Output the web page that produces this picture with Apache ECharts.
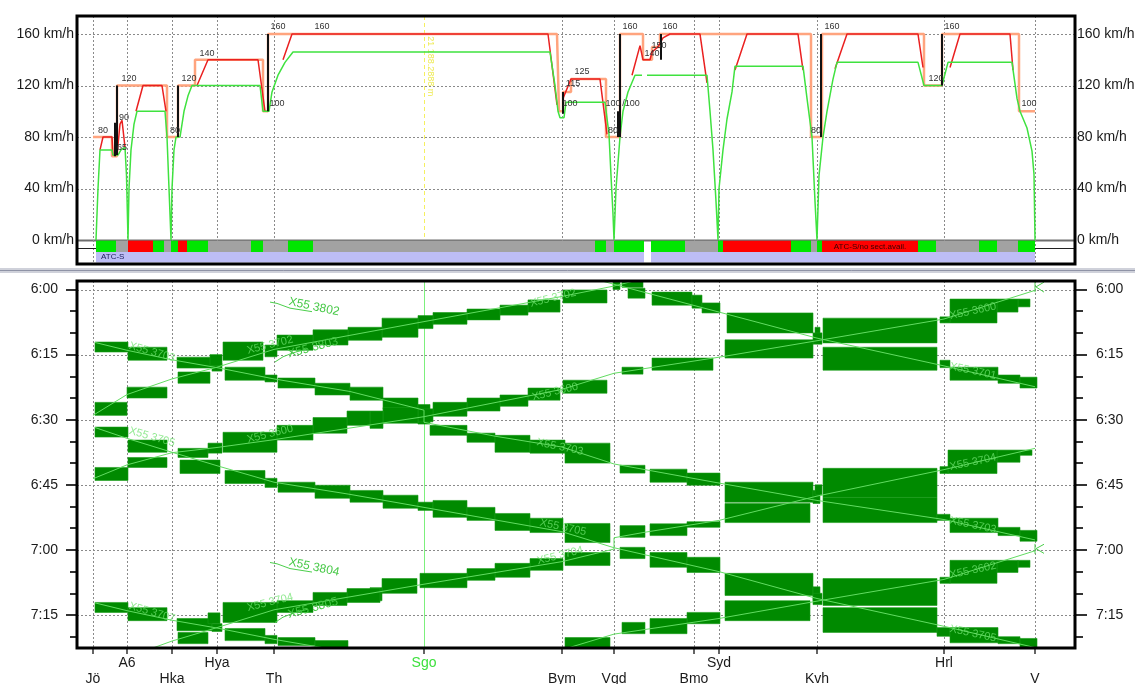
<!DOCTYPE html>
<html>
<head>
<meta charset="utf-8">
<script src="https://cdn.jsdelivr.net/npm/echarts@6/dist/echarts.min.js"></script>
<style>
html,body{margin:0;padding:0;background:#fff;}
#chart{width:1135px;height:684px;}
</style>
</head>
<body>
<div id="chart"></div>
<script>
// ---------- line geometry ----------
const stationNames = ['Jö','A6','Hka','Hya','Th','Sgo','Bym','Vgd','Bmo','Syd','Kvh','Hrl','V'];
const stationKm    = [0, 3.4, 7.9, 12.4, 18.1, 33.1, 46.9, 52.1, 60.1, 62.6, 72.4, 85.1, 94.2];
const stationRow   = [2, 1, 2, 1, 2, 1, 2, 2, 2, 1, 2, 1, 2];
const markerStation = 'Sgo';
const markerText = '21 188.2888 m';

// ---------- speed profile (km, km/h) ----------
const speedTicks = [0, 40, 80, 120, 160];
const speedLimit = [[0.0,80],[1.9,80],[1.9,65],[2.4,65],[2.4,120],[7.4,120],[7.4,80],[8.5,80],[8.5,120],[10.2,120],[10.2,140],[17.0,140],[17.0,100],[17.5,100],[17.5,160],[46.4,160],[46.6,100],[47.0,100],[47.0,115],[47.8,115],[47.8,125],[51.3,125],[51.3,80],[52.7,80],[52.7,160],[55.0,160],[55.0,140],[55.9,140],[55.9,150],[56.7,150],[56.7,160],[71.8,160],[71.8,80],[72.9,80],[72.9,160],[83.1,160],[83.1,120],[84.9,120],[84.9,160],[92.6,160],[92.6,100],[94.2,100]];
const targetSpeed = [
  [[0.7,70],[1.0,80],[1.9,80],[2.0,66],[2.4,66],[2.7,90],[2.9,93],[3.2,72]],
  [[4.3,100],[5.0,120],[6.9,120],[7.3,100]],
  [[10.4,120],[11.5,140],[16.5,140],[17.2,100]],
  [[19.0,140],[19.9,160],[45.5,160],[46.4,105]],
  [[47.0,110],[47.8,125],[50.7,125],[51.4,82]],
  [[53.9,128],[54.7,151],[55.0,140],[55.7,140],[55.9,146],[56.5,150],[57.0,157],[57.7,160],[60.7,160],[61.4,122]],
  [[64.2,132],[65.4,160],[70.5,160],[71.0,132]],
  [[74.2,133],[75.4,160],[82.5,160],[83.0,134]],
  [[85.7,134],[86.7,160],[91.7,160],[92.0,132]]
];
const actualSpeed = [
  [[0.3,0],[0.5,40],[0.7,70],[1.9,70],[2.0,66],[2.5,66],[2.8,70],[3.2,72],[3.35,50],[3.5,0],[3.6,40],[3.8,70],[4.1,90],[4.4,100],[7.2,100],[7.4,80],[7.6,40],[7.8,0],[7.9,40],[8.1,70],[8.3,80],[8.7,80],[9.1,100],[9.5,112],[9.9,120],[16.7,120],[17.0,100],[17.6,100],[17.9,115],[18.5,128],[19.2,138],[20.0,146],[45.7,146],[46.2,120],[46.5,100],[46.7,95],[47.1,95],[47.3,107],[51.2,107],[51.6,82],[51.8,50],[52.0,20],[52.1,0],[52.3,40],[52.7,80],[53.0,100],[53.5,115],[54.2,128],[54.9,128]],
  [[55.4,128],[61.4,128],[61.7,100],[62.0,70],[62.3,30],[62.5,0],[62.6,40],[63.0,70],[63.4,94],[63.9,115],[64.2,135],[71.0,135],[71.4,110],[71.9,80],[72.2,30],[72.4,0],[72.6,50],[73.0,80],[73.4,100],[74.0,125],[74.4,138],[82.5,138],[83.1,120],[84.9,120],[85.5,138],[91.9,138],[92.4,110],[92.7,100],[93.4,87],[93.9,69],[94.1,51],[94.2,0]]
];
// vertical marks: km, from, to (km/h)
const releaseMarks = [[2.2,65,91],[2.4,66,120],[8.5,80,120],[17.5,100,160],[47.0,98,115],[52.5,80,100],[52.7,80,160],[56.8,140,160],[72.8,80,160],[84.9,120,160]];
const speedLabels = [[1.0,85.4,'80'],[3.1,95.5,'90'],[2.9,72.2,'65'],[3.6,125.8,'120'],[8.2,85.4,'80'],[9.6,125.8,'120'],[11.4,145.2,'140'],[18.5,166.2,'160'],[18.4,106.4,'100'],[22.9,166.2,'160'],[48.9,130.5,'125'],[48.0,121.2,'115'],[47.7,106.4,'100'],[52.0,106.4,'100'],[53.8,106.4,'/100'],[52.0,85.4,'80'],[53.7,166.2,'160'],[55.9,144.5,'140'],[56.6,150.7,'150'],[57.7,166.2,'160'],[72.3,85.4,'80'],[73.9,166.2,'160'],[84.3,125.8,'120'],[85.9,166.2,'160'],[93.6,106.4,'100']];

// ATC supervision strip
const atcSegments = [[0.3,2.3,'G'],[2.3,3.5,'S'],[3.5,6.0,'R'],[6.0,7.1,'G'],[7.1,7.8,'S'],[7.8,8.5,'G'],[8.5,9.4,'R'],[9.4,11.5,'G'],[11.5,15.8,'S'],[15.8,17.0,'G'],[17.0,19.5,'S'],[19.5,22.0,'G'],[22.0,50.2,'S'],[50.2,51.3,'G'],[51.3,52.1,'S'],[52.1,55.1,'G'],[55.8,59.2,'G'],[59.2,62.5,'S'],[62.5,63.0,'G'],[63.0,69.8,'R'],[69.8,71.8,'G'],[71.8,72.4,'S'],[72.4,72.9,'G'],[72.9,82.5,'R'],[82.5,84.3,'G'],[84.3,88.6,'S'],[88.6,90.4,'G'],[90.4,92.5,'S'],[92.5,94.2,'G']];
const atcNotes = [[72.9,82.5,'ATC-S/no sect.avail.']];
const systemSegments = [[0.3,55.1,'ATC-S'],[55.8,94.2,'']];

// ---------- timetable (km, minutes after midnight) ----------
const timeTicks = [360, 375, 390, 405, 420, 435];
const minorTimeTicks = [365, 370, 380, 385, 395, 400, 410, 415, 425, 430, 440];

const blocks3701 = [[52.0,52.7,358.0,360.0],[53.5,55.2,359.7,362.0],[55.9,59.9,360.6,363.6],[59.9,60.9,361.3,364.3],[60.9,62.7,363.1,365.4],[63.4,72.0,365.4,370.0],[72.2,72.7,368.7,371.2],[73.0,84.4,373.3,378.6],[84.7,85.7,376.3,378.0],[85.7,90.5,377.9,380.9],[90.5,92.7,379.7,381.6],[92.7,94.4,380.2,382.7]];
const path3701 = [[46.9,355.5],[52.1,358.8],[62.6,365.2],[72.4,371.2],[85.1,377.6],[94.2,382.4]];

const blocks3703 = [[0.2,3.5,372.1,374.4],[3.5,7.4,373.3,376.3],[8.4,11.9,375.6,378.1],[11.9,12.9,377.0,378.8],[13.2,17.2,377.9,380.9],[17.2,18.4,379.7,381.3],[18.5,22.2,380.4,382.7],[22.2,25.7,381.6,384.3],[25.7,29.0,382.5,385.5],[29.0,32.5,385.0,387.6],[32.5,33.7,386.5,391.0],[33.7,37.4,391.3,393.6],[37.4,40.2,393.1,395.2],[40.2,43.7,393.6,397.5],[43.7,47.2,394.7,397.7],[47.2,51.7,395.4,400.0],[52.7,55.2,400.5,402.3],[55.7,59.4,401.4,404.4],[59.4,62.7,402.3,405.1],[63.2,72.0,404.4,409.0],[72.0,72.7,406.3,409.3],[73.0,84.4,407.9,413.7],[84.4,85.7,411.8,413.2],[85.7,90.5,412.7,416.0],[90.5,92.7,414.8,416.7],[92.7,94.4,415.5,418.0]];
const path3703 = [[0.2,372.2],[3.4,374.0],[7.9,376.2],[12.4,378.0],[18.1,380.6],[25.7,383.5],[33.1,387.8],[33.1,390.6],[40.2,393.8],[46.9,396.3],[52.1,400.2],[62.6,404.6],[72.4,408.6],[85.1,413.0],[94.2,417.7]];

const blocks3705 = [[0.2,3.5,391.7,394.0],[3.5,7.4,394.7,397.5],[8.7,12.7,399.3,402.4],[13.2,17.2,401.7,404.7],[17.2,18.4,403.5,405.6],[18.5,22.2,404.4,406.7],[22.2,25.7,405.1,408.1],[25.7,29.0,406.3,409.0],[29.0,32.5,407.4,410.4],[32.5,34.0,409.0,410.9],[34.0,37.4,408.6,412.5],[37.4,40.2,410.2,413.2],[40.2,43.7,411.6,415.5],[43.7,47.0,412.7,416.0],[47.2,51.7,413.9,418.3],[52.7,55.2,419.4,422.0],[55.7,59.4,420.6,424.0],[59.4,62.7,421.7,425.2],[63.2,72.0,425.4,430.5],[72.0,72.7,428.5,431.7],[73.0,84.4,433.3,439.0],[84.4,85.7,437.9,439.9],[85.7,90.5,437.9,441.4],[90.5,92.7,440.0,441.6],[92.7,94.4,440.4,442.5]];
const path3705 = [[0.2,391.8],[3.4,394.3],[7.9,397.5],[12.4,400.6],[18.1,404.4],[25.7,407.2],[33.1,410.2],[46.9,415.8],[52.1,419.5],[62.6,425.0],[72.4,431.2],[85.1,437.6],[94.2,442.5]];

const blocks3707 = [[0.2,3.5,432.1,434.4],[3.5,7.4,433.3,436.3],[8.4,11.9,435.8,438.6],[11.9,12.9,437.0,438.8],[13.2,17.2,438.1,440.9],[17.2,18.4,439.7,441.6],[18.5,22.2,440.2,442.0],[22.2,25.5,440.9,442.8]];
const path3707 = [[0.2,432.2],[3.4,434.0],[7.9,436.2],[12.4,438.0],[18.1,440.6],[25.7,443.6]];

const blocks3600 = [[92.5,93.7,362.2,364.0],[90.4,92.5,362.2,365.2],[85.7,90.4,362.2,367.7],[84.7,85.7,366.3,367.7],[73.0,84.4,366.6,372.3],[72.0,72.9,370.0,372.6],[63.2,72.0,371.6,375.8],[55.9,62.0,375.8,378.6],[52.9,55.0,377.9,379.5],[47.0,51.4,380.9,383.9],[43.5,46.7,382.7,385.5],[40.7,43.5,384.3,386.9],[37.4,40.7,385.0,388.0],[34.0,37.4,386.0,389.2],[32.5,34.0,387.5,390.5],[29.0,32.5,387.2,390.8],[27.7,29.0,388.0,392.0],[25.4,27.7,388.0,391.3],[22.0,25.4,389.5,393.1],[18.4,22.0,391.3,394.7],[13.0,18.4,392.9,397.5],[11.5,12.9,395.4,397.7],[8.5,11.5,396.6,398.7],[3.5,7.4,398.7,401.0],[0.2,3.5,401.0,404.0]];
const path3600 = [[94.2,360.2],[85.1,366.8],[72.4,371.8],[62.6,375.6],[52.1,379.3],[46.9,383.0],[33.1,389.3],[18.1,394.6],[12.4,396.4],[7.9,397.6],[3.4,400.4],[0.0,403.6]];

const blocks3602 = [[92.5,93.7,422.4,424.0],[90.4,92.5,422.4,425.2],[85.7,90.4,422.4,427.7],[84.7,85.7,426.3,427.7],[73.0,84.4,426.6,432.8],[72.0,72.9,430.0,432.6],[63.2,71.7,431.7,436.3],[59.4,62.7,434.4,437.0],[55.7,59.4,435.8,439.3],[52.9,55.2,436.7,439.3],[47.2,51.7,440.2,442.7]];
const path3602 = [[94.2,420.2],[85.1,426.8],[72.4,431.8],[62.6,435.8],[52.1,439.4],[46.9,443.0]];

const blocks3702 = [[52.9,55.0,358.0,359.5],[47.0,51.4,360.1,363.1],[43.5,46.7,362.4,365.2],[40.7,43.5,363.6,365.9],[37.4,40.7,364.5,367.0],[34.0,37.4,365.3,368.0],[32.5,34.0,366.0,369.0],[28.9,32.5,366.6,371.0],[25.5,28.9,368.7,371.7],[22.0,25.5,369.3,372.8],[18.4,22.0,370.5,374.0],[17.2,18.4,372.8,375.5],[13.0,17.0,372.1,376.3],[11.7,12.9,375.0,377.5],[8.5,11.7,379.0,381.6],[3.4,7.4,382.5,385.0],[0.2,3.4,386.0,389.0]];
const path3702 = [[55.0,357.5],[52.1,359.2],[46.9,361.6],[33.1,367.4],[18.1,373.8],[12.4,377.9],[7.9,380.6],[3.4,384.2],[0.0,389.0]];

const blocks3704 = [[92.7,93.9,397.0,398.2],[90.4,92.7,397.0,399.8],[85.5,90.4,397.0,402.4],[84.7,85.5,400.8,402.4],[73.0,84.4,401.2,407.9],[72.2,72.9,405.0,407.3],[63.2,71.7,409.3,413.7],[59.4,62.7,413.5,414.8],[55.7,59.4,414.0,416.7],[52.7,55.2,414.4,417.1],[47.2,51.7,420.6,423.6],[43.7,47.0,422.0,424.7],[40.2,43.7,423.1,426.3],[37.4,40.2,424.3,427.0],[32.7,37.4,425.4,428.7],[28.9,32.4,426.6,430.0],[27.7,28.9,428.7,431.7],[25.4,28.7,428.9,432.1],[22.0,25.4,429.8,432.8],[18.4,22.0,431.7,434.4],[13.0,18.4,432.1,436.7],[11.5,12.7,434.5,437.0],[8.5,11.5,439.0,441.6]];
const path3704 = [[94.2,396.6],[85.1,401.5],[72.4,407.6],[62.6,413.2],[55.0,416.0],[52.1,417.2],[52.1,419.8],[46.9,422.7],[33.1,427.9],[18.1,433.8],[12.4,437.9],[7.9,441.0],[5.5,443.0]];

// turnaround marks at the terminus (km, time points)
const turnMarks = [
  [[94.2,358.2],[94.2,360.6]], [[94.3,359.4],[95.1,358.3]], [[94.3,359.4],[95.1,360.6]],
  [[94.2,418.6],[94.2,420.9]], [[94.3,419.7],[95.1,418.7]], [[94.3,419.7],[95.1,420.8]]
];

// train number tags: km, time, text, rotation (deg)
const branchLeaders = [
  [[17.7,362.9],[18.4,363.2],[19.7,364.3],[21.9,365.1]],
  [[18.2,376.7],[19.0,375.5],[20.0,374.6],[21.4,373.7]],
  [[17.7,422.9],[18.4,423.2],[19.7,424.3],[21.9,425.1]],
  [[18.2,436.7],[19.0,435.5],[20.0,434.6],[21.4,433.7]]
];
const branchTags = [[22.1,364.0,'X55 3802',-12],[22.0,373.4,'X55 3803',15],[22.1,424.0,'X55 3804',-12],[22.0,433.4,'X55 3805',15]];
const trainTags = [
  [88.0,365.0,'X55 3600',12],[88.0,378.8,'X55 3701',-12],[88.0,399.8,'X55 3704',12],[88.0,414.3,'X55 3703',-12],[88.0,424.7,'X55 3602',12],[88.0,439.3,'X55 3705',-12],
  [5.9,374.4,'X55 3703',-16],[5.9,394.0,'X55 3705',-16],[5.9,434.4,'X55 3707',-16],
  [17.7,372.8,'X55 3702',14],[17.7,393.3,'X55 3600',14],[17.7,432.1,'X55 3704',14],
  [46.2,383.6,'X55 3600',14],[46.7,396.3,'X55 3703',-12],[47.0,414.8,'X55 3705',-12],[46.7,421.3,'X55 3704',14],[46.0,362.0,'X55 3702',14]
];

// ---------- layout ----------
const L = 77, R = 1075;
const T1 = 16, B1 = 264;
const T2 = 281, B2 = 648;
const FONT = '"Liberation Sans", Arial, Helvetica, sans-serif';

const allBlocks = [].concat(blocks3701, blocks3703, blocks3705, blocks3707, blocks3600, blocks3602, blocks3702, blocks3704);
const allPaths = [path3701, path3703, path3705, path3707, path3600, path3602, path3702, path3704];

function hm(v) {
  const h = Math.floor(v / 60), m = Math.round(v - h * 60);
  return h + ':' + String(m).padStart(2, '0');
}
function crisp(v) { return Math.round(v) + 0.5; }

// horizontal guide lines across a grid
function hLines(xi, yi, values, styleFn, z) {
  return {
    type: 'custom', xAxisIndex: xi, yAxisIndex: yi, z: z, silent: true,
    data: values.map(v => [0, v]),
    renderItem(params, api) {
      const cs = params.coordSys;
      const v = values[params.dataIndex];
      const y = crisp(api.coord([0, v])[1]);
      return { type: 'line', shape: { x1: cs.x, y1: y, x2: cs.x + cs.width, y2: y }, style: styleFn(v) };
    }
  };
}
// vertical guide lines at stations
function vLines(xi, yi, kms, styleFn, z, toValue) {
  return {
    type: 'custom', xAxisIndex: xi, yAxisIndex: yi, z: z, silent: true,
    data: kms.map(k => [k, 0]),
    renderItem(params, api) {
      const cs = params.coordSys;
      const k = kms[params.dataIndex];
      const x = crisp(api.coord([k, 0])[0]);
      const y2 = toValue === undefined ? cs.y + cs.height : api.coord([k, toValue])[1];
      return { type: 'line', shape: { x1: x, y1: cs.y, x2: x, y2: y2 }, style: styleFn(k) };
    }
  };
}

const dotted = { stroke: '#8a8a8a', lineWidth: 1, lineDash: [2, 2] };
const gridStations = stationKm.filter((k, i) => stationNames[i] !== markerStation);
const markerKm = stationKm[stationNames.indexOf(markerStation)];

const series = [];

// ---- speed panel ----
series.push(hLines(0, 0, speedTicks, v => v === 0 ? { stroke: '#6e6e6e', lineWidth: 2 } : dotted, 1));
series.push(vLines(0, 0, gridStations, () => dotted, 1));
series.push(vLines(0, 0, [markerKm], () => ({ stroke: '#f5f060', lineWidth: 1, lineDash: [4, 3] }), 1, 0));
series.push({
  type: 'custom', xAxisIndex: 0, yAxisIndex: 0, z: 2, silent: true,
  data: [[markerKm, 135]],
  renderItem(params, api) {
    const p = api.coord([markerKm + 0.6, 135]);
    return { type: 'text', x: p[0], y: p[1], rotation: -Math.PI / 2,
      style: { text: markerText, fill: '#eeea50', font: '9px ' + FONT, align: 'center', verticalAlign: 'middle' } };
  }
});
series.push({ type: 'line', xAxisIndex: 0, yAxisIndex: 0, z: 3, silent: true, symbol: 'none',
  data: speedLimit, lineStyle: { color: '#ffa47e', width: 2.5 } });
targetSpeed.forEach(seg => series.push({ type: 'line', xAxisIndex: 0, yAxisIndex: 0, z: 4, silent: true, symbol: 'none',
  data: seg, lineStyle: { color: '#ea2020', width: 1.5 } }));
actualSpeed.forEach(seg => series.push({ type: 'line', xAxisIndex: 0, yAxisIndex: 0, z: 5, silent: true, symbol: 'none',
  data: seg, lineStyle: { color: '#3fe23f', width: 1.5 } }));
series.push({
  type: 'custom', xAxisIndex: 0, yAxisIndex: 0, z: 6, silent: true,
  data: releaseMarks.map(d => [d[0], d[1]]),
  renderItem(params, api) {
    const d = releaseMarks[params.dataIndex];
    const p0 = api.coord([d[0], d[1]]), p1 = api.coord([d[0], d[2]]);
    const x = Math.round(p0[0]);
    return { type: 'line', shape: { x1: x, y1: p0[1], x2: x, y2: p1[1] }, style: { stroke: '#111', lineWidth: 2 } };
  }
});
series.push({
  type: 'custom', xAxisIndex: 0, yAxisIndex: 0, z: 7, silent: true,
  data: speedLabels.map(d => [d[0], d[1]]),
  renderItem(params, api) {
    const d = speedLabels[params.dataIndex];
    const p = api.coord([d[0], d[1]]);
    return { type: 'text', x: p[0], y: p[1],
      style: { text: d[2], fill: '#333', font: '9px ' + FONT, align: 'center', verticalAlign: 'middle' } };
  }
});
// ATC strip under the 0 km/h line
const atcColors = { G: '#00e600', S: '#a2a2a2', R: '#ff0000' };
series.push({
  type: 'custom', xAxisIndex: 0, yAxisIndex: 0, z: 8, silent: true,
  data: atcSegments.map(d => [d[0], 0]),
  renderItem(params, api) {
    const d = atcSegments[params.dataIndex];
    const a = api.coord([d[0], -0.5]), b = api.coord([d[1], -9.3]);
    return { type: 'rect', shape: { x: a[0], y: a[1], width: b[0] - a[0], height: b[1] - a[1] }, style: { fill: atcColors[d[2]] } };
  }
});
series.push({
  type: 'custom', xAxisIndex: 0, yAxisIndex: 0, z: 8, silent: true,
  data: systemSegments.map(d => [d[0], 0]),
  renderItem(params, api) {
    const d = systemSegments[params.dataIndex];
    const a = api.coord([d[0], -9.3]), b = api.coord([d[1], -17.4]);
    const children = [{ type: 'rect', shape: { x: a[0], y: a[1], width: b[0] - a[0], height: b[1] - a[1] }, style: { fill: '#bdbdf6' } }];
    if (d[2]) children.push({ type: 'text', x: a[0] + 5, y: (a[1] + b[1]) / 2,
      style: { text: d[2], fill: '#1c1c5a', font: '8px ' + FONT, align: 'left', verticalAlign: 'middle' } });
    return { type: 'group', children };
  }
});
series.push({
  type: 'custom', xAxisIndex: 0, yAxisIndex: 0, z: 9, silent: true,
  data: atcNotes.map(d => [d[0], 0]),
  renderItem(params, api) {
    const d = atcNotes[params.dataIndex];
    const p = api.coord([(d[0] + d[1]) / 2, -4.9]);
    return { type: 'text', x: p[0], y: p[1],
      style: { text: d[2], fill: '#3a0000', font: '8px ' + FONT, align: 'center', verticalAlign: 'middle' } };
  }
});
// strip frame ticks left and right of the strip
series.push({
  type: 'custom', xAxisIndex: 0, yAxisIndex: 0, z: 8, silent: true,
  data: [[stationKm[0], 0]],
  renderItem(params, api) {
    const cs = params.coordSys;
    const s = api.coord([atcSegments[0][0], -6.5]);
    const e = api.coord([atcSegments[atcSegments.length - 1][1], -6.5]);
    const y = crisp(s[1]);
    return { type: 'group', children: [
      { type: 'line', shape: { x1: cs.x, y1: y, x2: s[0], y2: y }, style: { stroke: '#222', lineWidth: 1 } },
      { type: 'line', shape: { x1: e[0], y1: y, x2: cs.x + cs.width, y2: y }, style: { stroke: '#222', lineWidth: 1 } }
    ] };
  }
});

// ---- timetable panel ----
series.push(hLines(1, 2, timeTicks, () => dotted, 1));
series.push(vLines(1, 2, gridStations, () => dotted, 1));
series.push(vLines(1, 2, [markerKm], () => ({ stroke: '#7cf07c', lineWidth: 1 }), 1));
series.push({
  type: 'custom', xAxisIndex: 1, yAxisIndex: 2, z: 3, silent: true,
  data: allBlocks.map(d => [d[0], d[2]]),
  renderItem(params, api) {
    const d = allBlocks[params.dataIndex];
    const cs = params.coordSys;
    const a = api.coord([d[0], d[2]]), b = api.coord([d[1], d[3]]);
    const r = echarts.graphic.clipRectByRect(
      { x: Math.min(a[0], b[0]), y: Math.min(a[1], b[1]), width: Math.abs(b[0] - a[0]), height: Math.abs(b[1] - a[1]) },
      { x: cs.x, y: cs.y, width: cs.width, height: cs.height });
    if (!r) return null;
    return { type: 'rect', shape: r, style: { fill: '#008a00', stroke: '#179c17', lineWidth: 0.6 } };
  }
});
allPaths.forEach(p => series.push({ type: 'line', xAxisIndex: 1, yAxisIndex: 2, z: 4, silent: true, symbol: 'none',
  data: p, lineStyle: { color: '#62dc62', width: 1 } }));
series.push({
  type: 'custom', xAxisIndex: 1, yAxisIndex: 2, z: 5, silent: true,
  data: turnMarks.map(p => p[0]),
  renderItem(params, api) {
    const pts = turnMarks[params.dataIndex].map(q => api.coord(q));
    return { type: 'polyline', shape: { points: pts }, style: { stroke: '#4ccf4c', lineWidth: 1, fill: null } };
  }
});
series.push({
  type: 'custom', xAxisIndex: 1, yAxisIndex: 2, z: 5, silent: true,
  data: branchLeaders.map(p => p[0]),
  renderItem(params, api) {
    const pts = branchLeaders[params.dataIndex].map(q => api.coord(q));
    return { type: 'polyline', shape: { points: pts }, style: { stroke: '#4ccf4c', lineWidth: 1, fill: null } };
  }
});
series.push({
  type: 'custom', xAxisIndex: 1, yAxisIndex: 2, z: 5, silent: true,
  data: branchTags.map(d => [d[0], d[1]]),
  renderItem(params, api) {
    const d = branchTags[params.dataIndex];
    const p = api.coord([d[0], d[1]]);
    return { type: 'text', x: p[0], y: p[1], rotation: d[3] * Math.PI / 180,
      style: { text: d[2], fill: '#45c845', font: '12px ' + FONT, align: 'center', verticalAlign: 'middle' } };
  }
});
series.push({
  type: 'custom', xAxisIndex: 1, yAxisIndex: 2, z: 5, silent: true,
  data: trainTags.map(d => [d[0], d[1]]),
  renderItem(params, api) {
    const d = trainTags[params.dataIndex];
    const p = api.coord([d[0], d[1]]);
    return { type: 'text', x: p[0], y: p[1], rotation: d[3] * Math.PI / 180,
      style: { text: d[2], fill: 'rgba(110,225,110,0.75)', font: '11px ' + FONT, align: 'center', verticalAlign: 'middle' } };
  }
});

const axisText = { color: '#1a1a1a', fontSize: 14, fontFamily: FONT };
const hidden = { show: false };
const noLine = { show: false, onZero: false };

const option = {
  animation: false,
  backgroundColor: '#ffffff',
  grid: [
    { left: L, top: T1, width: R - L, height: B1 - T1, outerBoundsMode: 'none', containLabel: false },
    { left: L, top: T2, width: R - L, height: B2 - T2, outerBoundsMode: 'none', containLabel: false }
  ],
  xAxis: [
    { gridIndex: 0, type: 'value', min: -1.6, max: 98.2, show: false, axisLine: noLine },
    { gridIndex: 1, type: 'value', min: -1.6, max: 98.2, position: 'bottom',
      axisLine: noLine, splitLine: hidden,
      axisTick: { show: true, customValues: stationKm, length: 6, lineStyle: { color: '#333', width: 1.5 } },
      axisLabel: { show: true, customValues: stationKm, margin: 7, lineHeight: 16, ...axisText,
        formatter: v => {
          const i = stationKm.indexOf(v);
          if (i < 0) return '';
          const style = stationNames[i] === markerStation ? 'g' : 'n';
          const txt = '{' + style + '|' + stationNames[i] + '}';
          return stationRow[i] === 2 ? '\n' + txt : txt;
        },
        rich: { n: { color: '#1a1a1a', fontSize: 14, lineHeight: 16, fontFamily: FONT },
                g: { color: '#3de03d', fontSize: 14, lineHeight: 16, fontFamily: FONT } } } }
  ],
  yAxis: [
    { gridIndex: 0, type: 'value', min: -18.64, max: 174, position: 'left',
      axisLine: noLine, axisTick: hidden, splitLine: hidden,
      axisLabel: { customValues: speedTicks, formatter: '{value} km/h', margin: 3, ...axisText } },
    { gridIndex: 0, type: 'value', min: -18.64, max: 174, position: 'right',
      axisLine: noLine, axisTick: hidden, splitLine: hidden,
      axisLabel: { customValues: speedTicks, formatter: '{value} km/h', margin: 2, ...axisText } },
    { gridIndex: 1, type: 'value', min: 358.04, max: 442.6, inverse: true, position: 'left',
      axisLine: noLine, splitLine: hidden,
      axisTick: { show: true, customValues: timeTicks, length: 11, lineStyle: { color: '#333', width: 2 } },
      axisLabel: { customValues: timeTicks, formatter: hm, margin: 19, ...axisText } },
    { gridIndex: 1, type: 'value', min: 358.04, max: 442.6, inverse: true, position: 'left',
      axisLine: noLine, splitLine: hidden, axisLabel: hidden,
      axisTick: { show: true, customValues: minorTimeTicks, length: 7, lineStyle: { color: '#333', width: 2 } } },
    { gridIndex: 1, type: 'value', min: 358.04, max: 442.6, inverse: true, position: 'right',
      axisLine: noLine, splitLine: hidden,
      axisTick: { show: true, customValues: timeTicks, length: 12, lineStyle: { color: '#333', width: 2 } },
      axisLabel: { customValues: timeTicks, formatter: hm, margin: 21, ...axisText } },
    { gridIndex: 1, type: 'value', min: 358.04, max: 442.6, inverse: true, position: 'right',
      axisLine: noLine, splitLine: hidden, axisLabel: hidden,
      axisTick: { show: true, customValues: minorTimeTicks, length: 8, lineStyle: { color: '#333', width: 2 } } }
  ],
  graphic: [
    { type: 'rect', z: 100, silent: true, shape: { x: L, y: T1, width: R - L, height: B1 - T1 }, style: { fill: null, stroke: '#000', lineWidth: 3 } },
    { type: 'rect', z: 100, silent: true, shape: { x: L, y: T2, width: R - L, height: B2 - T2 }, style: { fill: null, stroke: '#000', lineWidth: 3 } },
    { type: 'rect', z: 100, silent: true, shape: { x: 0, y: 268, width: 1135, height: 5 }, style: { fill: '#cfd1da' } },
    { type: 'line', z: 101, silent: true, shape: { x1: 0, y1: 270.5, x2: 1135, y2: 270.5 }, style: { stroke: '#8f93a6', lineWidth: 1 } }
  ],
  series: series
};

const chart = echarts.init(document.getElementById('chart'), null, { renderer: 'canvas', width: 1135, height: 684 });
chart.setOption(option);
</script>
</body>
</html>
